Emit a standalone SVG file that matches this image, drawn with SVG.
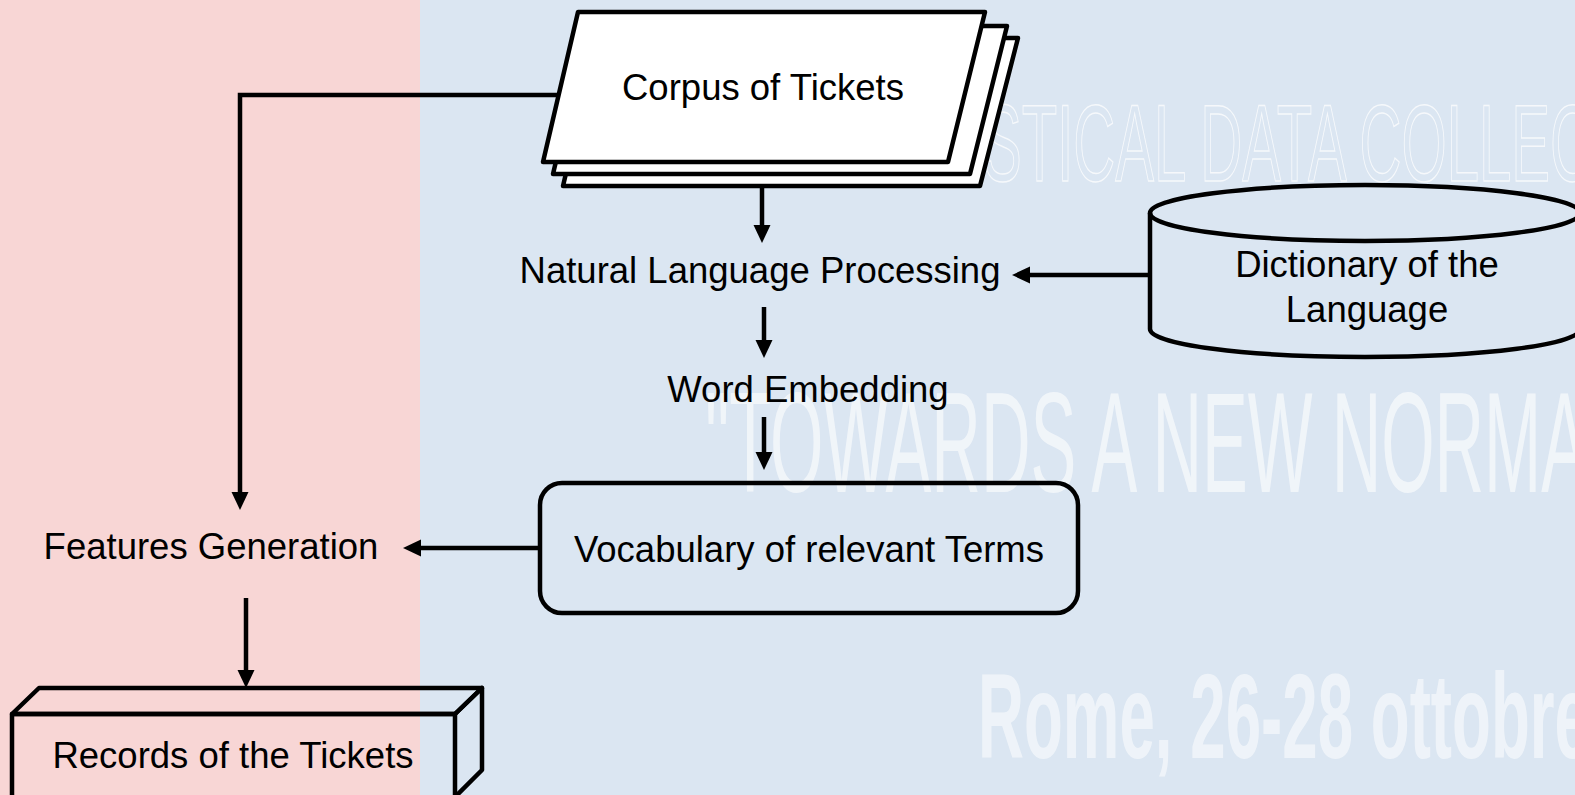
<svg xmlns="http://www.w3.org/2000/svg" width="1575" height="795" viewBox="0 0 1575 795">
  <style>
    .lbl { font-family: "Liberation Sans", Arial, sans-serif; font-size: 36.5px; fill: #000; text-anchor: middle; }
    .shape { fill: none; stroke: #000; stroke-width: 4.5; stroke-linejoin: round; }
    .sheet { fill: #fff; stroke: #000; stroke-width: 4.5; stroke-linejoin: round; }
    .conn { fill: none; stroke: #000; stroke-width: 4.5; }
    .wm { font-family: "Liberation Sans", Arial, sans-serif; fill: #fff; }
  </style>
  <defs>
    <marker id="arrow" viewBox="0 0 18 18" markerWidth="18" markerHeight="18" refX="4" refY="9" orient="auto" markerUnits="userSpaceOnUse">
      <path d="M0,0.5 L18,9 L0,17.5 Z" fill="#000"/>
    </marker>
  </defs>

  <!-- background bands and faint backdrop lettering -->
  <g id="background">
    <rect x="0" y="0" width="1575" height="795" fill="#DBE6F2"/>
    <rect x="0" y="0" width="420" height="795" fill="#F8D6D5"/>
    <text class="wm" x="983" y="181" font-size="110" textLength="609" lengthAdjust="spacingAndGlyphs" style="fill:none;stroke:#fff;stroke-width:1.5;opacity:0.75">STICAL DATA COLLEC</text>
    <text class="wm" x="705" y="492" font-size="142" textLength="882" lengthAdjust="spacingAndGlyphs" opacity="0.6">"TOWARDS A NEW NORMA</text>
    <text class="wm" x="978" y="758" font-size="120" font-weight="bold" textLength="612" lengthAdjust="spacingAndGlyphs" opacity="0.55">Rome, 26-28 ottobre</text>
  </g>

  <!-- connectors -->
  <g id="connectors">
    <path class="conn" d="M562,95 H240 V496" marker-end="url(#arrow)"/>
    <path class="conn" d="M762,186 V229" marker-end="url(#arrow)"/>
    <path class="conn" d="M1150,275 H1026" marker-end="url(#arrow)"/>
    <path class="conn" d="M764,307 V344" marker-end="url(#arrow)"/>
    <path class="conn" d="M764,417 V456" marker-end="url(#arrow)"/>
    <path class="conn" d="M540,548 H417" marker-end="url(#arrow)"/>
    <path class="conn" d="M246,598 V674" marker-end="url(#arrow)"/>
  </g>

  <!-- stacked document sheets -->
  <g id="corpus">
    <polygon class="sheet" points="598,38 1018,38 980,186 563,186"/>
    <polygon class="sheet" points="588,26 1007,26 970,174 553,174"/>
    <polygon class="sheet" points="578,12 985,12 948,162 543,162"/>
    <text class="lbl" x="763" y="100">Corpus of Tickets</text>
  </g>

  <g id="nlp">
    <text class="lbl" x="760" y="283">Natural Language Processing</text>
  </g>

  <g id="dictionary">
    <path class="shape" d="M1150,213 V329 A215,28 0 0 0 1580,329 V213"/>
    <ellipse class="shape" cx="1365" cy="213" rx="215" ry="28"/>
    <text class="lbl" x="1367" y="277">Dictionary of the</text>
    <text class="lbl" x="1367" y="322">Language</text>
  </g>

  <g id="embedding">
    <text class="lbl" x="808" y="402">Word Embedding</text>
  </g>

  <g id="vocabulary">
    <rect class="shape" x="540" y="483" width="538" height="130" rx="22" ry="22"/>
    <text class="lbl" x="809" y="562">Vocabulary of relevant Terms</text>
  </g>

  <g id="features">
    <text class="lbl" x="211" y="559">Features Generation</text>
  </g>

  <!-- 3D record box -->
  <g id="records">
    <path class="shape" d="M12,714 L39,688 H482 L455,714 Z"/>
    <path class="shape" d="M455,714 L482,688 V770 L455,797"/>
    <rect class="shape" x="12" y="714" width="443" height="90"/>
    <text class="lbl" x="233" y="768">Records of the Tickets</text>
  </g>
</svg>
